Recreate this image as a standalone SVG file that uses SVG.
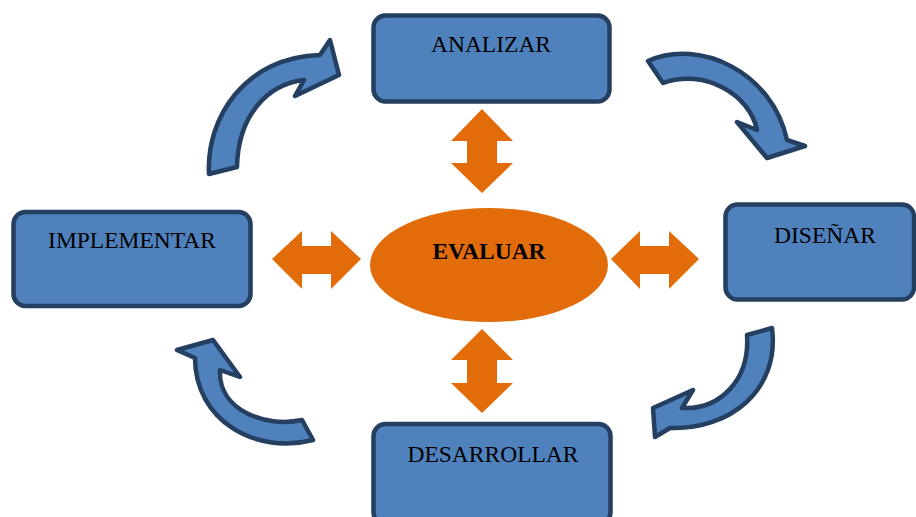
<svg xmlns="http://www.w3.org/2000/svg" width="916" height="517" viewBox="0 0 916 517">
<style>
.box{fill:#4F81BD;stroke:#243F60;stroke-width:4.5}
.curve{fill:#4F81BD;stroke:#243F60;stroke-width:4.5;stroke-linejoin:round}
.orange{fill:#E36C0A}
.lbl{font-family:"Liberation Serif","Times New Roman",serif;font-size:23.5px;fill:#000;text-anchor:middle}
.bold{font-weight:bold}
</style>
<rect width="916" height="517" fill="#fff"/>
<g id="connectors">
<path class="curve" d="M 209,174 C 206,118 245,57 320,55 L 330,40 L 339,75 L 295,96 L 304,80 C 268,84 238,115 237,167 Z"/>
<path class="curve" d="M 648,61 C 700,38 772,72 787,140 L 805,146 L 767,158 L 737,122 L 757,130 C 750,95 705,68 663,83 Z"/>
<path class="curve" d="M 772,328 C 780,390 730,430 670,428 L 655,437 L 653,408 L 693,390 L 682,408 C 720,410 750,380 747,335 Z"/>
<path class="curve" d="M 313,440 C 255,455 195,420 195,358 L 177,350 L 213,340 L 240,377 L 220,370 C 218,410 265,428 302,420 Z"/>
<polygon class="orange" points="482,109 513,141 497,141 497,163 513,163 482,193 451,163 467,163 467,141 451,141"/>
<polygon class="orange" points="482,329 513,360 497,360 497,383 513,383 482,413 451,383 467,383 467,360 451,360"/>
<polygon class="orange" points="272,259 302,231 302,246 331,246 331,231 361,259 331,289 331,274 302,274 302,289"/>
<polygon class="orange" points="611,259 640,231 640,246 669,246 669,231 699,259 669,289 669,274 640,274 640,289"/>
</g>
<g id="analizar">
<rect class="box" x="373.5" y="15.5" width="236" height="86" rx="12"/>
<text class="lbl" x="491" y="52">ANALIZAR</text>
</g>
<g id="disenar">
<rect class="box" x="725.5" y="204.5" width="188.5" height="95" rx="12"/>
<text class="lbl" x="825" y="243">DISEÑAR</text>
</g>
<g id="implementar">
<rect class="box" x="13.5" y="212" width="237" height="94" rx="12"/>
<text class="lbl" x="132" y="248">IMPLEMENTAR</text>
</g>
<g id="desarrollar">
<rect class="box" x="373.5" y="424" width="237" height="100" rx="12"/>
<text class="lbl" x="493" y="462">DESARROLLAR</text>
</g>
<g id="evaluar">
<ellipse class="orange" cx="489" cy="265" rx="119" ry="57"/>
<text class="lbl bold" x="489" y="258.5">EVALUAR</text>
</g>
</svg>
